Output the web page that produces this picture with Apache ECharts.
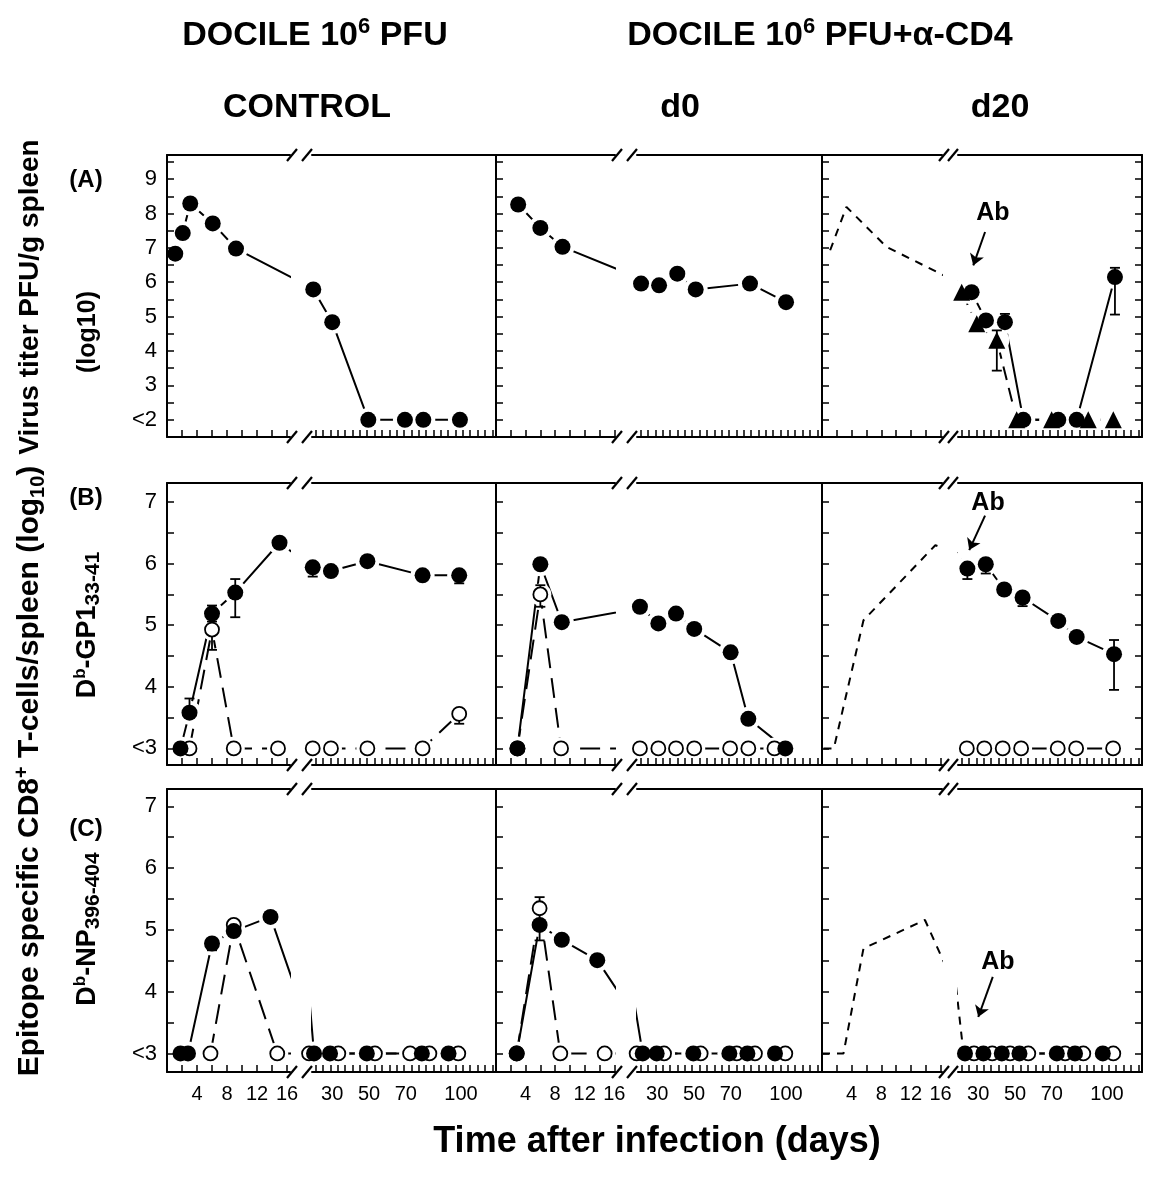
<!DOCTYPE html>
<html><head><meta charset="utf-8">
<script src="https://cdn.jsdelivr.net/npm/echarts@6/dist/echarts.min.js"></script>
<style>html,body{margin:0;padding:0;background:#fff}#chart{width:1150px;height:1180px}</style>
</head><body><div id="chart"></div>
<script>
// ================= DATA (days after infection, log10 values) =================
// (A) Virus titer PFU/g spleen
const A_ctrl_days = [1.1, 2.1, 3.1, 6.1, 9.2, 19.7, 30.0, 49.6, 69.5, 79.5, 99.4];
const A_ctrl_vals = [6.83, 7.43, 8.29, 7.71, 6.98, 5.79, 4.84, 2, 2, 2, 2];
const A_d0_days = [3.0, 6.0, 9.0, 21.2, 31.0, 40.9, 50.9, 80.4, 100.0];
const A_d0_vals = [8.26, 7.58, 7.03, 5.96, 5.91, 6.25, 5.79, 5.96, 5.42];
const A_d20_ref_days = [1.1, 3.3, 8.7, 21.0];
const A_d20_ref_vals = [6.93, 8.19, 7.03, 5.71];
const A_d20_tri_days = [21.0, 29.2, 40.1, 50.9, 69.9, 89.8, 103.4];
const A_d20_tri_vals = [5.71, 4.79, 4.31, 2, 2, 2, 2];
const A_d20_tri_err = [[40.1, 3.43, 4.60]];
const A_d20_circ_days = [26.4, 34.2, 44.5, 54.5, 73.5, 83.5, 104.3];
const A_d20_circ_vals = [5.71, 4.89, 4.84, 2, 2, 2, 6.15];
const A_d20_circ_err = [[44.5, 4.84, 5.08], [104.3, 5.06, 6.42]];

// (B) Db-GP133-41 specific CD8+ T cells
const B_ctrl_fill_days = [1.8, 3.0, 6.0, 9.1, 15.0, 19.4, 29.3, 49.1, 79.1, 99.0];
const B_ctrl_fill_vals = [3.0, 3.58, 5.19, 5.53, 6.34, 5.94, 5.88, 6.04, 5.81, 5.81];
const B_ctrl_fill_err = [[3.0, 3.58, 3.81], [6.0, 5.06, 5.32], [9.1, 5.13, 5.75], [19.4, 5.79, 5.94], [99.0, 5.68, 5.81]];
const B_ctrl_open_days = [3.0, 6.0, 8.9, 14.8, 19.4, 29.3, 49.1, 79.1, 99.0];
const B_ctrl_open_vals = [3, 4.93, 3, 3, 3, 3, 3, 3, 3.56];
const B_ctrl_open_err = [[6.0, 4.60, 4.93], [99.0, 3.40, 3.56]];
const B_d0_fill_days = [2.9, 6.0, 8.9, 20.6, 30.6, 40.2, 50.1, 69.9, 79.5, 99.6];
const B_d0_fill_vals = [3.0, 5.99, 5.05, 5.30, 5.03, 5.19, 4.94, 4.56, 3.48, 3.0];
const B_d0_open_days = [2.9, 6.0, 8.8, 20.6, 30.6, 40.2, 50.1, 69.6, 79.5, 93.7];
const B_d0_open_vals = [3, 5.50, 3, 3, 3, 3, 3, 3, 3, 3];
const B_d0_open_err = [[6.0, 5.30, 5.65]];
const B_d20_ref_days = [0.2, 1.6, 5.6, 15.3, 24.1];
const B_d20_ref_vals = [3, 3, 5.08, 6.30, 5.92];
const B_d20_fill_days = [24.1, 34.1, 44.1, 54.1, 73.5, 83.5, 103.8];
const B_d20_fill_vals = [5.92, 5.99, 5.58, 5.45, 5.07, 4.81, 4.53];
const B_d20_fill_err = [[24.1, 5.75, 5.92], [34.1, 5.84, 5.99], [54.1, 5.31, 5.45], [103.8, 3.95, 4.76]];
const B_d20_open_days = [23.8, 33.3, 43.3, 53.3, 73.2, 83.2, 103.3];
const B_d20_open_vals = [3, 3, 3, 3, 3, 3, 3];

// (C) Db-NP396-404 specific CD8+ T cells
const C_ctrl_fill_days = [1.8, 2.8, 6.0, 8.9, 13.8, 20.1, 28.8, 48.8, 78.7, 93.2];
const C_ctrl_fill_vals = [3, 3, 4.78, 4.98, 5.21, 3, 3, 3, 3, 3];
const C_ctrl_fill_err = [[6.0, 4.67, 4.78]];
const C_ctrl_open_days = [5.8, 8.9, 14.7, 17.4, 33.3, 53.2, 72.3, 82.8, 98.5];
const C_ctrl_open_vals = [3, 5.08, 3, 3, 3, 3, 3, 3, 3];
const C_d0_fill_days = [2.8, 5.9, 8.9, 13.7, 22.1, 29.7, 49.6, 69.2, 79.0, 94.0];
const C_d0_fill_vals = [3, 5.08, 4.84, 4.51, 3, 3, 3, 3, 3, 3];
const C_d0_open_days = [2.8, 5.9, 8.7, 14.7, 18.8, 33.7, 53.6, 73.2, 83.1, 99.6];
const C_d0_open_vals = [3, 5.35, 3, 3, 3, 3, 3, 3, 3, 3];
const C_d0_open_err = [[5.9, 4.83, 5.53]];
const C_d20_ref_days = [0, 2.9, 5.6, 13.9, 22.0];
const C_d20_ref_vals = [3, 3, 4.70, 5.16, 3];
const C_d20_fill_days = [22.8, 32.8, 42.8, 52.4, 72.7, 82.6, 97.7];
const C_d20_fill_vals = [3, 3, 3, 3, 3, 3, 3];
const C_d20_open_days = [27.7, 37.6, 47.3, 57.2, 77.2, 87.1, 103.4];
const C_d20_open_vals = [3, 3, 3, 3, 3, 3, 3];

// Tick labels
const X_LABELS_LEFT = [4, 8, 12, 16];
const X_LABELS_RIGHT = [30, 50, 70, 100];
const Y_LABELS_A = [2, 3, 4, 5, 6, 7, 8, 9];      // 2 shown as "<2"
const Y_LABELS_BC = [3, 4, 5, 6, 7];              // 3 shown as "<3"

// "Ab" annotation anchors (data coords of the d20 panels' late segment)
const AB_A = {text: [38.0, 8.00], from: [33.7, 7.46], to: [27.3, 6.49]};
const AB_B = {text: [35.3, 6.98], from: [33.7, 6.78], to: [25.1, 6.22]};
const AB_C = {text: [40.7, 4.48], from: [37.9, 4.24], to: [30.0, 3.59]};

// ================= LAYOUT =================
const FONT = "'Liberation Sans', Arial, Helvetica, sans-serif";
function range(a, b, s) { const o = []; for (let v = a; v <= b + 1e-9; v += s) o.push(+v.toFixed(2)); return o; }
const X_TICKS_LEFT = range(2, 16, 2);
const X_TICKS_RIGHT = range(21, 117, 4);
const COLS = [
  {L0: 167, L1: 290, R0: 312, R1: 496, lmax: 16.4},
  {L0: 496, L1: 615, R0: 637, R1: 821, lmax: 16.1},
  {L0: 822, L1: 942, R0: 958, R1: 1142, lmax: 16.2}
];
const RMIN = 19, RMAX = 119;
const ROWS = [
  {top: 155, bottom: 437, min: 1.5, max: 9.7, labels: Y_LABELS_A, ticks: range(2, 9.5, 0.5)},
  {top: 483, bottom: 765, min: 2.73, max: 7.31, labels: Y_LABELS_BC, ticks: range(3, 7, 0.5)},
  {top: 789, bottom: 1072, min: 2.70, max: 7.28, labels: Y_LABELS_BC, ticks: range(3, 7, 0.5)}
];

const PANELS = [
  {r: 0, c: 0, sets: [['fill', A_ctrl_days, A_ctrl_vals, null]]},
  {r: 0, c: 1, sets: [['fill', A_d0_days, A_d0_vals, null]]},
  {r: 0, c: 2, ab: AB_A, sets: [['ref', A_d20_ref_days, A_d20_ref_vals, null], ['tri', A_d20_tri_days, A_d20_tri_vals, A_d20_tri_err], ['fill', A_d20_circ_days, A_d20_circ_vals, A_d20_circ_err]]},
  {r: 1, c: 0, sets: [['open', B_ctrl_open_days, B_ctrl_open_vals, B_ctrl_open_err], ['fill', B_ctrl_fill_days, B_ctrl_fill_vals, B_ctrl_fill_err]]},
  {r: 1, c: 1, sets: [['open', B_d0_open_days, B_d0_open_vals, B_d0_open_err], ['fill', B_d0_fill_days, B_d0_fill_vals, null]]},
  {r: 1, c: 2, ab: AB_B, sets: [['ref', B_d20_ref_days, B_d20_ref_vals, null], ['open', B_d20_open_days, B_d20_open_vals, null], ['fill', B_d20_fill_days, B_d20_fill_vals, B_d20_fill_err]]},
  {r: 2, c: 0, sets: [['open', C_ctrl_open_days, C_ctrl_open_vals, null], ['fill', C_ctrl_fill_days, C_ctrl_fill_vals, C_ctrl_fill_err]]},
  {r: 2, c: 1, sets: [['open', C_d0_open_days, C_d0_open_vals, C_d0_open_err], ['fill', C_d0_fill_days, C_d0_fill_vals, null]]},
  {r: 2, c: 2, ab: AB_C, sets: [['ref', C_d20_ref_days, C_d20_ref_vals, null], ['open', C_d20_open_days, C_d20_open_vals, null], ['fill', C_d20_fill_days, C_d20_fill_vals, null]]}
];

const KIND = {
  fill: {line: {type: 'solid', width: 2}, sym: 'circle', size: 16, item: {color: '#000', opacity: 1}, z: 6},
  open: {line: {type: [20, 10], width: 2}, sym: 'circle', size: 14, item: {color: '#fff', borderColor: '#000', borderWidth: 1.8, opacity: 1}, z: 5},
  tri:  {line: {type: [14, 8], width: 2}, sym: 'triangle', size: 17, item: {color: '#000', opacity: 1}, z: 6},
  ref:  {line: {type: [8, 7], width: 2}, sym: null}
};
const SPLIT = 17;

const grids = [], xAxes = [], yAxes = [], series = [];
const black = {color: '#000', width: 2};

function errRender(params, api) {
  const x = api.value(0), lo = api.value(1), hi = api.value(2);
  const p1 = api.coord([x, lo]), p2 = api.coord([x, hi]);
  const w = 5, st = {stroke: '#000', lineWidth: 1.8};
  return {type: 'group', children: [
    {type: 'line', shape: {x1: p1[0], y1: p1[1], x2: p2[0], y2: p2[1]}, style: st},
    {type: 'line', shape: {x1: p1[0] - w, y1: p1[1], x2: p1[0] + w, y2: p1[1]}, style: st},
    {type: 'line', shape: {x1: p2[0] - w, y1: p2[1], x2: p2[0] + w, y2: p2[1]}, style: st}
  ]};
}

PANELS.forEach((p, pi) => {
  const C = COLS[p.c], R = ROWS[p.r];
  [0, 1].forEach(seg => {
    const g = pi * 2 + seg;
    const left = seg ? C.R0 : C.L0, right = seg ? C.R1 : C.L1;
    grids.push({left: left, top: R.top, width: right - left, height: R.bottom - R.top});
    const xmin = seg ? RMIN : 0, xmax = seg ? RMAX : C.lmax;
    xAxes.push({gridIndex: g, type: 'value', position: 'bottom', min: xmin, max: xmax, z: 3,
      axisLine: {onZero: false, lineStyle: black},
      axisTick: {show: true, inside: true, length: 7, lineStyle: {color: '#000', width: 1.5}, customValues: seg ? X_TICKS_RIGHT : X_TICKS_LEFT},
      axisLabel: {show: p.r === 2, customValues: seg ? X_LABELS_RIGHT : X_LABELS_LEFT, color: '#000', fontSize: 20, fontFamily: FONT, margin: 12},
      splitLine: {show: false}});
    xAxes.push({gridIndex: g, type: 'value', position: 'top', min: xmin, max: xmax, z: 3,
      axisLine: {onZero: false, lineStyle: black}, axisTick: {show: false}, axisLabel: {show: false}, splitLine: {show: false}});
    const showY = seg === 0 || p.c === 2;
    yAxes.push({gridIndex: g, type: 'value', position: seg ? 'right' : 'left', min: R.min, max: R.max, z: 3,
      axisLine: {show: showY, onZero: false, lineStyle: black},
      axisTick: {show: showY, inside: true, length: 7, lineStyle: {color: '#000', width: 1.5}, customValues: R.ticks},
      axisLabel: {show: seg === 0 && p.c === 0, customValues: R.labels, color: '#000', fontSize: 22, fontFamily: FONT, margin: 10,
        formatter: v => (v === R.labels[0] ? '<' + v : String(v))},
      splitLine: {show: false}});

    p.sets.forEach((s, si) => {
      const [kind, days, vals, errs] = s;
      const K = KIND[kind];
      const all = days.map((d, i) => [d, vals[i]]);
      const pts = all.filter(q => seg ? q[0] >= SPLIT : q[0] < SPLIT);
      series.push({type: 'line', xAxisIndex: g * 2, yAxisIndex: g, data: all, symbol: 'none', clip: true, silent: true, z: 1,
        lineStyle: {color: '#000', width: K.line.width, type: K.line.type, opacity: 1}, animation: false});
      if (K.sym) {
        series.push({type: 'scatter', xAxisIndex: g * 2, yAxisIndex: g, data: pts, symbol: 'circle', symbolSize: K.size + 8,
          itemStyle: {color: '#fff', opacity: 1}, z: 2, clip: false, silent: true, animation: false});
        const ms = {type: 'scatter', xAxisIndex: g * 2, yAxisIndex: g, data: pts, symbol: K.sym, symbolSize: K.size,
          itemStyle: K.item, z: K.z, clip: false, silent: true, animation: false};
        if (p.ab && seg === 1 && si === p.sets.length - 1) {
          ms.markLine = {silent: true, symbol: ['none', 'arrow'], symbolSize: 11, animation: false,
            lineStyle: {color: '#000', width: 2, type: 'solid', opacity: 1}, label: {show: false},
            data: [[{coord: p.ab.from}, {coord: p.ab.to}]]};
          ms.markPoint = {silent: true, symbol: 'circle', symbolSize: 1, itemStyle: {color: 'rgba(0,0,0,0)'}, animation: false,
            label: {show: true, position: 'inside', formatter: 'Ab', color: '#000', fontSize: 25, fontWeight: 'bold', fontFamily: FONT},
            data: [{coord: p.ab.text}]};
        }
        series.push(ms);
      }
      if (errs) {
        const e = errs.filter(q => seg ? q[0] >= SPLIT : q[0] < SPLIT);
        if (e.length) series.push({type: 'custom', xAxisIndex: g * 2, yAxisIndex: g, data: e, renderItem: errRender, z: 4, silent: true, animation: false});
      }
    });
  });
});

// ================= TEXT & BREAK MARKS =================
const rich = {
  h: {fontSize: 34, fontWeight: 'bold', fontFamily: FONT, lineHeight: 40, verticalAlign: 'middle'},
  hs: {fontSize: 22, fontWeight: 'bold', fontFamily: FONT, lineHeight: 20, verticalAlign: 'top'},
  p: {fontSize: 24, fontWeight: 'bold', fontFamily: FONT},
  v: {fontSize: 28, fontWeight: 'bold', fontFamily: FONT},
  y: {fontSize: 30, fontWeight: 'bold', fontFamily: FONT, lineHeight: 36, verticalAlign: 'middle'},
  ys: {fontSize: 20, fontWeight: 'bold', fontFamily: FONT, lineHeight: 19, verticalAlign: 'top'},
  yb: {fontSize: 20, fontWeight: 'bold', fontFamily: FONT, lineHeight: 19, verticalAlign: 'bottom'},
  d: {fontSize: 27, fontWeight: 'bold', fontFamily: FONT, lineHeight: 32, verticalAlign: 'middle'},
  ds: {fontSize: 17, fontWeight: 'bold', fontFamily: FONT, lineHeight: 17, verticalAlign: 'top'},
  db: {fontSize: 21, fontWeight: 'bold', fontFamily: FONT, lineHeight: 20, verticalAlign: 'bottom'},
  l: {fontSize: 25, fontWeight: 'bold', fontFamily: FONT},
  x: {fontSize: 36, fontWeight: 'bold', fontFamily: FONT}
};
function T(x, y, text, rot) {
  return {type: 'text', x: x, y: y, rotation: rot || 0, z: 10, silent: true,
    style: {text: text, rich: rich, fill: '#000', align: 'center', verticalAlign: 'middle', textAlign: 'center', textVerticalAlign: 'middle'}};
}
const R90 = Math.PI / 2;
const graphics = [
  T(315, 36, '{h|DOCILE 10}{hs|6}{h| PFU}'),
  T(820, 36, '{h|DOCILE 10}{hs|6}{h| PFU+α-CD4}'),
  T(307, 108, '{h|CONTROL}'),
  T(680, 108, '{h|d0}'),
  T(1000, 108, '{h|d20}'),
  T(86, 180, '{p|(A)}'),
  T(86, 498, '{p|(B)}'),
  T(86, 829, '{p|(C)}'),
  T(30, 297, '{v|Virus titer PFU/g spleen}', R90),
  T(88, 332, '{l|(log10)}', R90),
  T(30, 771, '{y|Epitope specific CD8}{ys|+}{y| T-cells/spleen (log}{yb|10}{y|)}', R90),
  T(88, 625, '{d|D}{ds|b}{d|-GP1}{db|33-41}', R90),
  T(88, 929, '{d|D}{ds|b}{d|-NP}{db|396-404}', R90),
  T(657, 1142, '{x|Time after infection (days)}')
];
ROWS.forEach(R => COLS.forEach(C => {
  [R.top, R.bottom].forEach(yy => {
    [C.L1 + 2, C.R0 - 5].forEach(cx => {
      graphics.push({type: 'line', z: 10, silent: true, shape: {x1: cx - 5, y1: yy + 6, x2: cx + 5, y2: yy - 6}, style: {stroke: '#000', lineWidth: 2.2}});
    });
  });
}));

const chart = echarts.init(document.getElementById('chart'), null, {renderer: 'canvas'});
chart.setOption({
  animation: false,
  backgroundColor: '#fff',
  grid: grids, xAxis: xAxes, yAxis: yAxes, series: series,
  graphic: graphics
});
</script></body></html>
